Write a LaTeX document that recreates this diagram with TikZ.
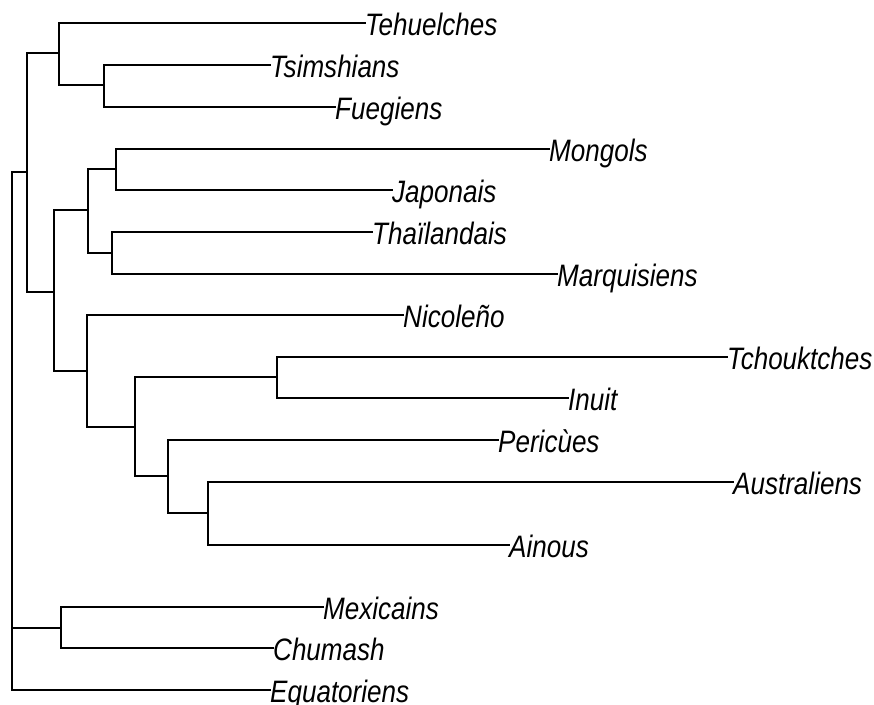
\documentclass[tikz,border=0pt]{standalone}
\usepackage{fontspec}
\newfontfamily\treefont[FakeStretch=0.84]{Liberation Sans}
\usetikzlibrary{positioning}

\begin{document}
\begin{tikzpicture}[
  x=1pt, y=-1pt,
  branch/.style={draw, line width=1.5pt, line cap=rect},
  lbl/.style={anchor=base west, inner sep=0pt, yshift=-12pt,
    font=\treefont\itshape\fontsize{31}{31}\selectfont}
]
  \useasboundingbox (0,0) rectangle (874,704);

  % internal nodes of the tree
  \coordinate (root) at (12,172);
  \coordinate (nA) at (27,172);
  \coordinate (nB) at (59,53);
  \coordinate (nC) at (104,85);
  \coordinate (nD) at (54,292);
  \coordinate (nE) at (88,210);
  \coordinate (nF) at (116,169);
  \coordinate (nG) at (112,253);
  \coordinate (nH) at (87,371);
  \coordinate (nI) at (135,427);
  \coordinate (nJ) at (277,377);
  \coordinate (nK) at (168,476);
  \coordinate (nL) at (208,513);
  \coordinate (nM) at (61,628);

  % tips
  \coordinate (tehu) at (365,23);
  \coordinate (tsim) at (270,65);
  \coordinate (fueg) at (335,107);
  \coordinate (mong) at (549,149);
  \coordinate (japo) at (392,190);
  \coordinate (thai) at (372,232);
  \coordinate (marq) at (557,274);
  \coordinate (nico) at (403,315);
  \coordinate (tcho) at (727,357);
  \coordinate (inui) at (568,398);
  \coordinate (peri) at (498,440);
  \coordinate (aust) at (733,482);
  \coordinate (aino) at (509,545);
  \coordinate (mexi) at (323,607);
  \coordinate (chum) at (273,648);
  \coordinate (equa) at (270,690);

  \node[lbl] (lTehu) at (tehu) {Tehuelches};
  \node[lbl] (lTsim) at (tsim) {Tsimshians};
  \node[lbl] (lFueg) at (fueg) {Fuegiens};
  \node[lbl] (lMong) at (mong) {Mongols};
  \node[lbl] (lJapo) at (japo) {Japonais};
  \node[lbl] (lThai) at (thai) {Thaïlandais};
  \node[lbl] (lMarq) at (marq) {Marquisiens};
  \node[lbl] (lNico) at (nico) {Nicoleño};
  \node[lbl] (lTcho) at (tcho) {Tchouktches};
  \node[lbl] (lInui) at (inui) {Inuit};
  \node[lbl] (lPeri) at (peri) {Pericùes};
  \node[lbl] (lAust) at (aust) {Australiens};
  \node[lbl] (lAino) at (aino) {Ainous};
  \node[lbl] (lMexi) at (mexi) {Mexicains};
  \node[lbl] (lChum) at (chum) {Chumash};
  \node[lbl] (lEqua) at (equa) {Equatoriens};

  % branches
  \draw[branch] (root) |- (nA);
  \draw[branch] (root) |- (nM);
  \draw[branch] (root) |- (equa);

  \draw[branch] (nA) |- (nB);
  \draw[branch] (nA) |- (nD);
  \draw[branch] (nB) |- (tehu);
  \draw[branch] (nB) |- (nC);
  \draw[branch] (nC) |- (tsim);
  \draw[branch] (nC) |- (fueg);

  \draw[branch] (nD) |- (nE);
  \draw[branch] (nD) |- (nH);
  \draw[branch] (nE) |- (nF);
  \draw[branch] (nE) |- (nG);
  \draw[branch] (nF) |- (mong);
  \draw[branch] (nF) |- (japo);
  \draw[branch] (nG) |- (thai);
  \draw[branch] (nG) |- (marq);

  \draw[branch] (nH) |- (nico);
  \draw[branch] (nH) |- (nI);
  \draw[branch] (nI) |- (nJ);
  \draw[branch] (nI) |- (nK);
  \draw[branch] (nJ) |- (tcho);
  \draw[branch] (nJ) |- (inui);
  \draw[branch] (nK) |- (peri);
  \draw[branch] (nK) |- (nL);
  \draw[branch] (nL) |- (aust);
  \draw[branch] (nL) |- (aino);

  \draw[branch] (nM) |- (mexi);
  \draw[branch] (nM) |- (chum);
\end{tikzpicture}
\end{document}
